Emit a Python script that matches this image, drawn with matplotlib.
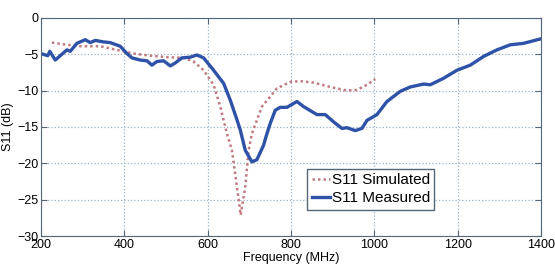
import numpy as np
import matplotlib.pyplot as plt

plt.rcParams['font.family'] = ['Liberation Sans', 'DejaVu Sans']

# measured S11 (blue)
meas_f = [205, 216, 221, 234, 262, 270, 286, 306, 318, 330, 349, 366, 390, 406, 418,
          438, 454, 466, 478, 494, 510, 522, 538, 558, 574, 590, 614, 638, 654, 670,
          678, 690, 706, 718, 734, 740, 750, 762, 774, 790, 814, 830, 862, 882, 902,
          922, 934, 954, 970, 982, 1006, 1030, 1062, 1086, 1118, 1134, 1166, 1198,
          1230, 1262, 1294, 1326, 1358, 1398]
meas_db = [-5.0, -5.2, -4.6, -5.8, -4.4, -4.6, -3.5, -3.0, -3.4, -3.1, -3.3, -3.4, -3.9,
           -4.9, -5.5, -5.8, -5.9, -6.5, -6.0, -5.9, -6.6, -6.2, -5.5, -5.4, -5.1, -5.5,
           -7.2, -9.0, -11.3, -14.0, -15.4, -18.2, -19.8, -19.5, -17.5, -16.3, -14.5,
           -12.7, -12.3, -12.3, -11.5, -12.2, -13.3, -13.3, -14.3, -15.2, -15.1, -15.5,
           -15.2, -14.1, -13.3, -11.5, -10.1, -9.5, -9.1, -9.2, -8.3, -7.2, -6.5, -5.3,
           -4.4, -3.7, -3.5, -2.9]

# simulated S11 (dotted)
sim_f = [226, 262, 294, 342, 382, 422, 462, 502, 542, 566, 590, 614, 630, 646, 658,
         670, 679, 690, 698, 706, 730, 766, 798, 822, 854, 894, 934, 958, 982, 1002]
sim_db = [-3.4, -3.7, -3.9, -3.9, -4.4, -4.9, -5.2, -5.4, -5.5, -6.0, -7.2, -9.2, -12.2,
          -15.9, -18.2, -23.2, -27.1, -23.2, -18.2, -15.9, -12.2, -9.7, -8.8, -8.7, -8.9,
          -9.5, -10.0, -9.9, -9.2, -8.4]

fig = plt.figure(figsize=(5.55, 2.71), dpi=100)
ax = fig.add_axes([0.074, 0.129, 0.901, 0.805])

ax.plot(sim_f, sim_db, color='#c07a80', linestyle=(0, (1, 1.2)), linewidth=1.8,
        label='S11 Simulated')
ax.plot(meas_f, meas_db, color='#2d52a8', linewidth=2.4, label='S11 Measured')

ax.set_xlim(200, 1400)
ax.set_ylim(-30, 0)
ax.set_xticks(np.arange(200, 1401, 200))
ax.set_yticks(np.arange(-30, 1, 5))
ax.grid(True, linestyle=':', color='#9ab4c8', linewidth=0.9)
ax.tick_params(direction='in', top=True, right=True, labelsize=9, length=4,
               color='#556677', pad=2)
for s in ax.spines.values():
    s.set_color('#556677')

ax.set_xlabel('Frequency (MHz)', fontsize=9, labelpad=1)
ax.set_ylabel('S11 (dB)', fontsize=9, labelpad=2)

leg = ax.legend(loc='lower left', bbox_to_anchor=(0.532, 0.12), fontsize=11,
                handlelength=1.2, handletextpad=0.1, borderpad=0.3, labelspacing=0.25,
                fancybox=False, framealpha=1, borderaxespad=0)
leg.get_frame().set_edgecolor('#556677')

fig.savefig('out.png', dpi=100)
